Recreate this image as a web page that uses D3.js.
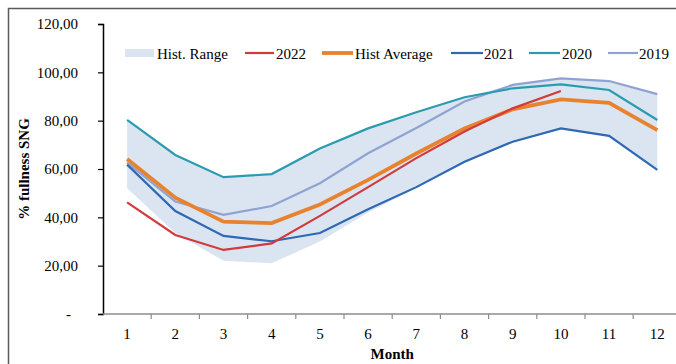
<!DOCTYPE html>
<html>
<head>
<meta charset="utf-8">
<script src="https://cdn.jsdelivr.net/npm/d3@7"></script>
<style>
  html, body { margin: 0; padding: 0; background: #fff; }
  svg { display: block; }
  text { font-family: "Liberation Serif", "Times New Roman", serif; fill: #000; }
</style>
</head>
<body>
<svg id="chart" width="676" height="364"></svg>
<script>
// ---- data ----
const months = [1, 2, 3, 4, 5, 6, 7, 8, 9, 10, 11, 12];
const yTicks = [0, 20, 40, 60, 80, 100, 120];
const rangeLow  = [52.0, 33.5, 22.0, 21.0, 30.0, 42.0, 52.0, 62.5, 71.3, 76.8, 73.7, 59.6];
const rangeHigh = [80.3, 65.8, 56.6, 57.9, 68.5, 76.8, 83.5, 89.7, 94.8, 97.5, 96.4, 91.0];
const s2022 = [46.2, 32.7, 26.5, 29.2, 40.6, 52.5, 64.5, 75.5, 85.1, 92.3];
const sHistAvg = [64.1, 48.1, 38.2, 37.6, 45.3, 55.5, 66.4, 76.8, 84.7, 88.8, 87.4, 76.1];
const s2021 = [61.8, 42.6, 32.3, 30.1, 33.5, 43.3, 52.5, 63.0, 71.3, 76.8, 73.7, 59.6];
const s2020 = [80.3, 65.8, 56.6, 57.9, 68.5, 76.8, 83.5, 89.7, 93.4, 95.0, 92.7, 80.3];
const s2019 = [62.6, 46.5, 41.0, 44.7, 54.1, 66.5, 77.0, 87.9, 94.8, 97.5, 96.4, 91.0];
const legendLabels = ["Hist. Range", "2022", "Hist Average", "2021", "2020", "2019"];

// ---- layout ----
const svg = d3.select("#chart");
const plotLeft = 103, plotRight = 681.4, plotTop = 24, plotBottom = 314;

// frame
svg.append("rect").attr("x", 8.5).attr("y", 8.5).attr("width", 720).attr("height", 420)
  .attr("fill", "none").attr("stroke", "#5a5a5a").attr("stroke-width", 1.5);

const x = d3.scaleBand().domain(months).range([plotLeft, plotRight]).padding(0);
const y = d3.scaleLinear().domain([0, 120]).range([plotBottom, plotTop]);
const cx = m => x(m) + x.bandwidth() / 2;

// range band
const area = d3.area()
  .x((d, i) => cx(months[i]))
  .y0(d => y(d[0]))
  .y1(d => y(d[1]));
svg.append("path")
  .datum(rangeLow.map((v, i) => [v, rangeHigh[i]]))
  .attr("d", area)
  .attr("fill", "#dbe5f1");

const line = d3.line().x((d, i) => cx(months[i])).y(d => y(d));
const series = [
  { data: s2019, color: "#8fa3d3", w: 2.2 },
  { data: s2020, color: "#2b9cb0", w: 2.2 },
  { data: s2021, color: "#2f69b3", w: 2.2 },
  { data: sHistAvg, color: "#e8822d", w: 3.8 },
  { data: s2022, color: "#d23a3c", w: 2.2 }
];
series.forEach(s => {
  svg.append("path").datum(s.data).attr("d", line)
    .attr("fill", "none").attr("stroke", s.color).attr("stroke-width", s.w)
    .attr("stroke-linejoin", "miter");
});

// y axis
const yAxis = d3.axisLeft(y).tickValues(yTicks).tickSize(5).tickPadding(0)
  .tickFormat(d => d === 0 ? "-" : d.toFixed(2).replace(".", ","));
const gy = svg.append("g").attr("transform", `translate(${plotLeft},0)`).call(yAxis);
gy.select(".domain").attr("stroke", "#000").attr("stroke-width", 1.5);
gy.selectAll(".tick line").attr("stroke", "#000").attr("stroke-width", 1.2);
gy.selectAll(".tick text")
  .attr("x", d => d === 0 ? -32 : -25)
  .attr("font-size", 15).attr("font-family", "Liberation Serif");

// x axis
svg.append("line").attr("x1", plotLeft).attr("x2", plotRight)
  .attr("y1", plotBottom).attr("y2", plotBottom)
  .attr("stroke", "#8c8c8c").attr("stroke-width", 1.5);
svg.append("g").selectAll("line").data(months).join("line")
  .attr("x1", d => x(d) + x.bandwidth()).attr("x2", d => x(d) + x.bandwidth())
  .attr("y1", plotBottom).attr("y2", plotBottom + 5)
  .attr("stroke", "#8c8c8c").attr("stroke-width", 1.2);
svg.append("g").selectAll("text").data(months).join("text")
  .attr("x", d => cx(d)).attr("y", 339)
  .attr("text-anchor", "middle").attr("font-size", 15)
  .text(d => d);

// axis titles
svg.append("text").attr("x", (plotLeft + plotRight) / 2).attr("y", 359)
  .attr("text-anchor", "middle").attr("font-size", 15).attr("font-weight", "bold")
  .text("Month");
svg.append("text").attr("transform", `translate(29,${(plotTop + plotBottom) / 2}) rotate(-90)`)
  .attr("text-anchor", "middle").attr("font-size", 15).attr("font-weight", "bold")
  .text("% fullness SNG");

// legend
const legY = 53;
const legItems = [
  { type: "rect", x0: 125, x1: 154, tx: 157, color: "#dbe5f1" },
  { type: "line", x0: 245, x1: 274, tx: 276, color: "#d23a3c", w: 2.2 },
  { type: "line", x0: 322, x1: 353, tx: 355, color: "#e8822d", w: 3.8 },
  { type: "line", x0: 451, x1: 483, tx: 484, color: "#2f69b3", w: 2.2 },
  { type: "line", x0: 529, x1: 560, tx: 562, color: "#2b9cb0", w: 2.2 },
  { type: "line", x0: 608, x1: 638, tx: 639, color: "#8fa3d3", w: 2.2 }
];
const lg = svg.append("g");
legItems.forEach((it, i) => {
  if (it.type === "rect") {
    lg.append("rect").attr("x", it.x0).attr("y", legY - 4).attr("width", it.x1 - it.x0).attr("height", 8)
      .attr("fill", it.color);
  } else {
    lg.append("line").attr("x1", it.x0).attr("x2", it.x1).attr("y1", legY).attr("y2", legY)
      .attr("stroke", it.color).attr("stroke-width", it.w);
  }
  lg.append("text").attr("x", it.tx).attr("y", legY + 5.5).attr("font-size", 15)
    .text(legendLabels[i]);
});
</script>
</body>
</html>
